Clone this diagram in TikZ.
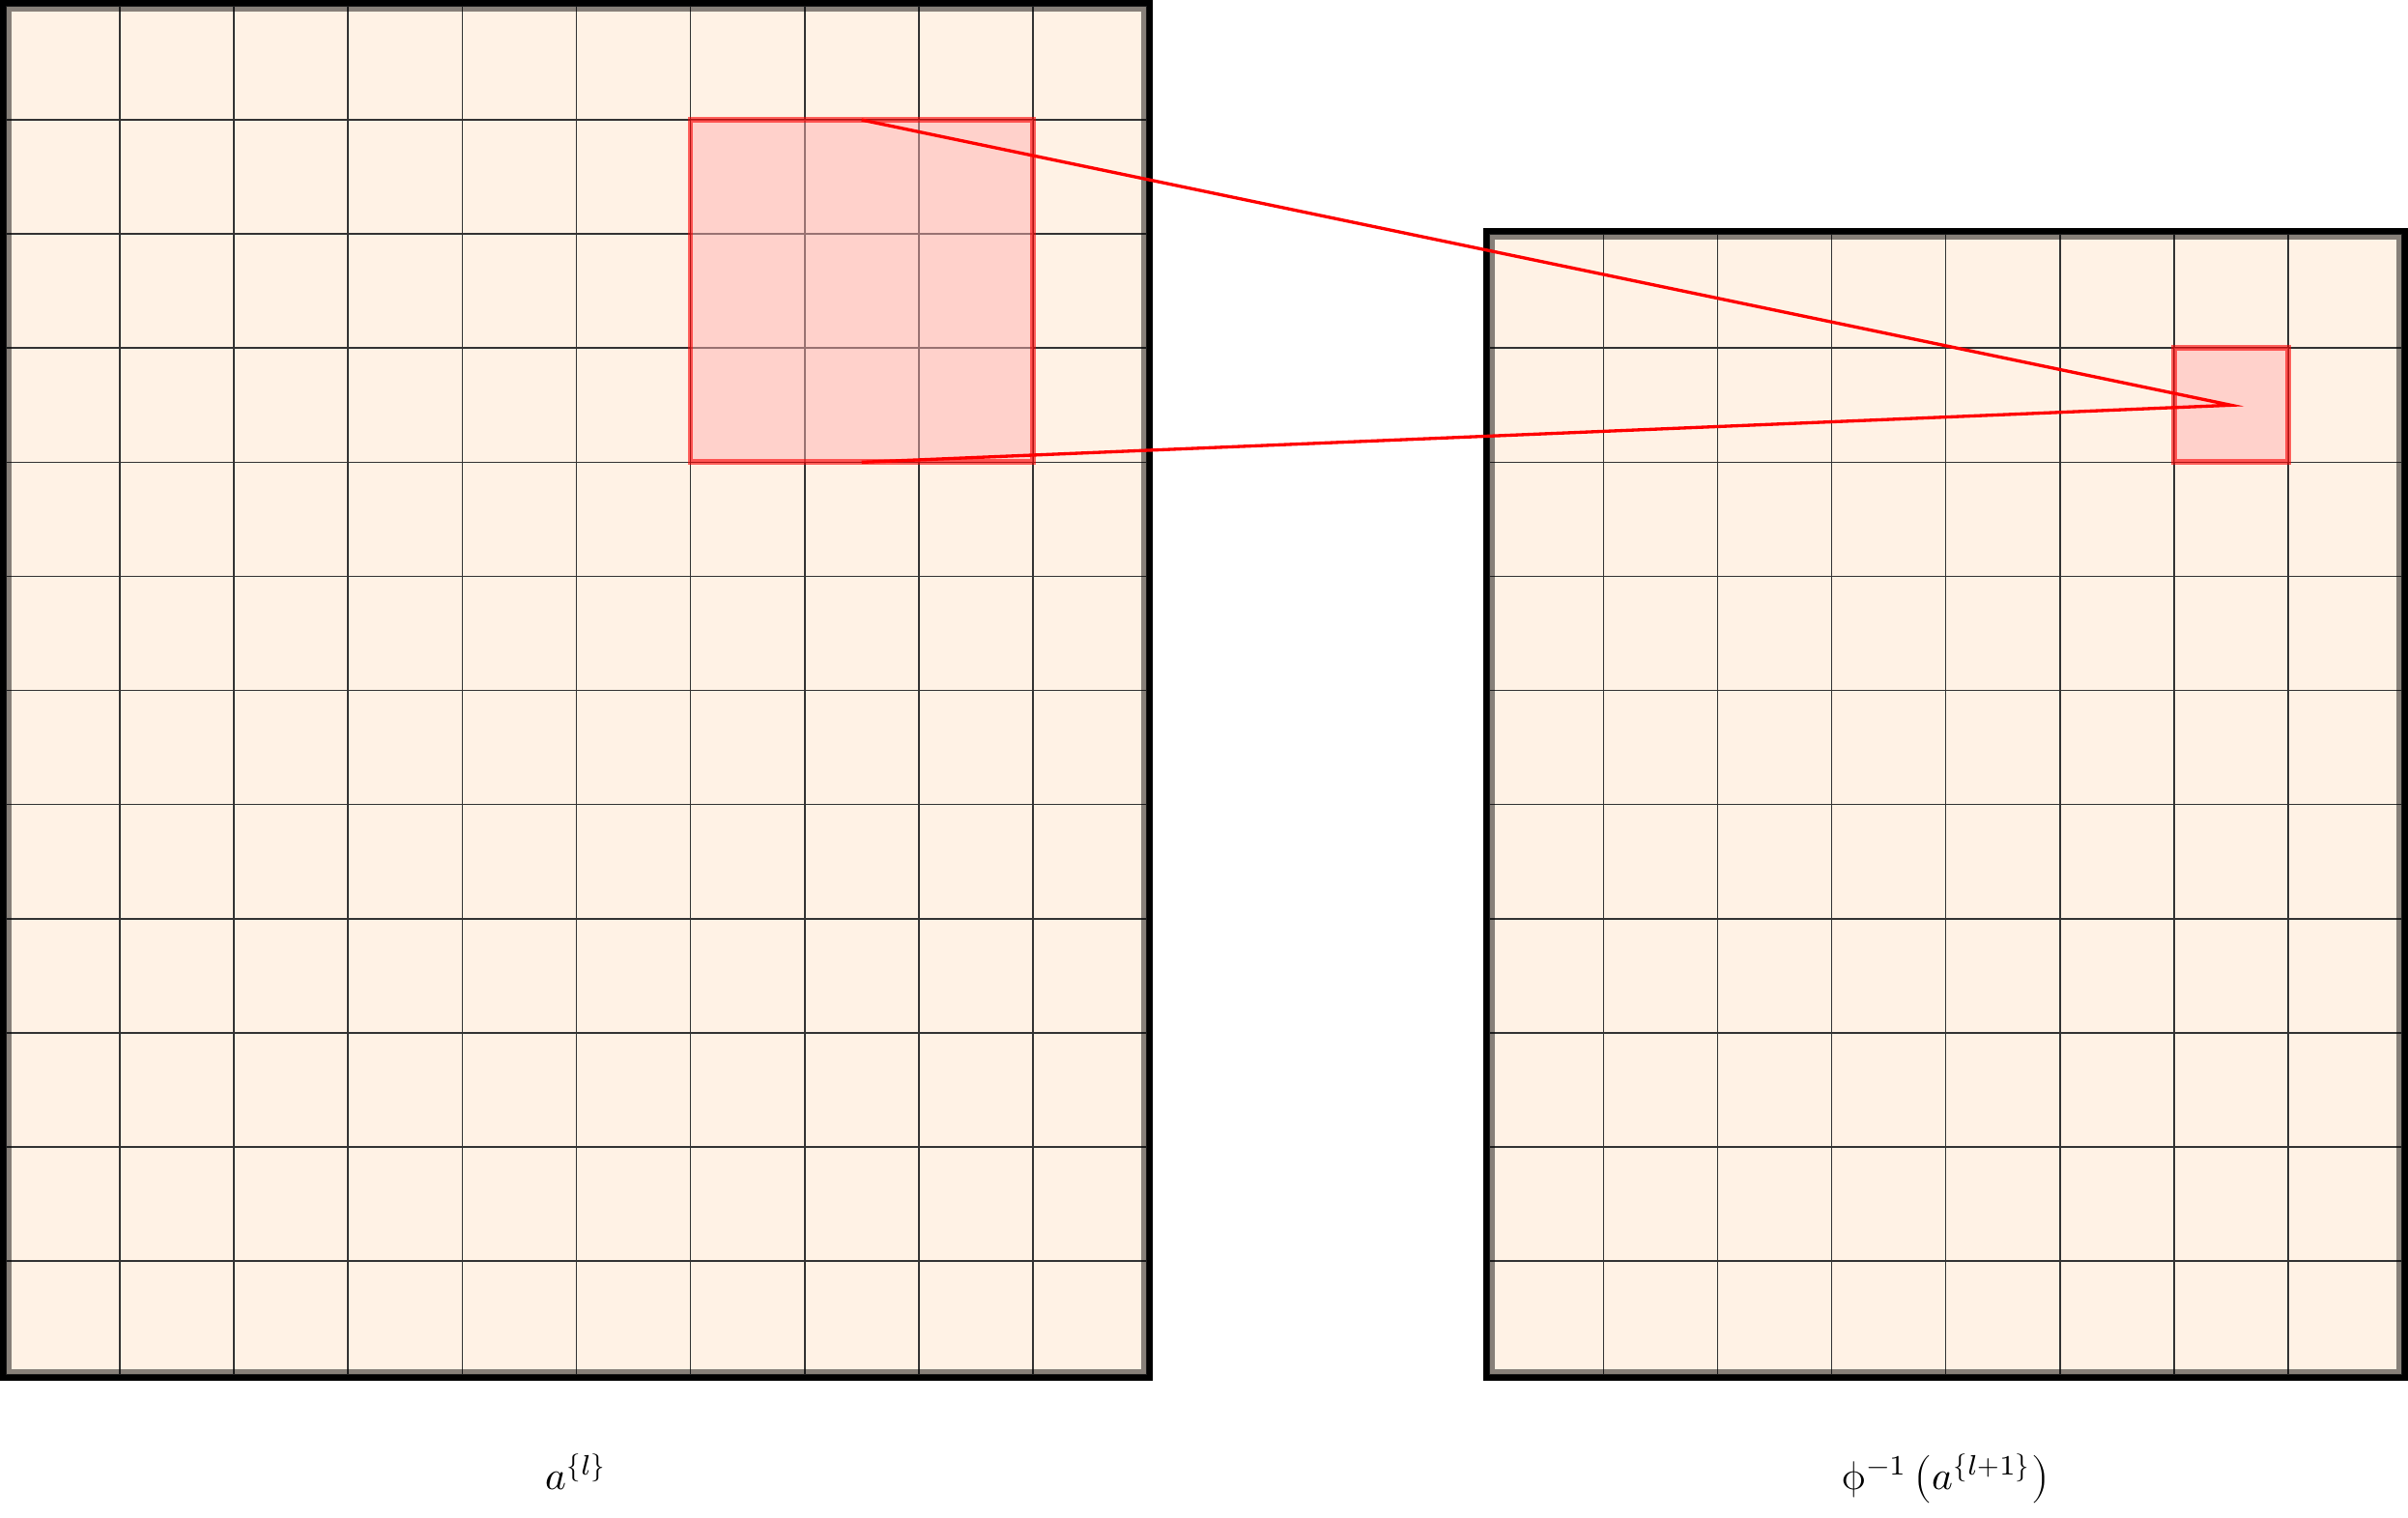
\documentclass[tikz,border=0pt]{standalone}
\usepackage{unicode-math}
\tikzset{
  gridbg/.style={fill=orange!10},
  gridlines/.style={black!80, line width=0.4pt},
  outerframe/.style={black, line width=0.0508cm},
  innerframe/.style={black, opacity=0.47, line width=0.0508cm},
  sel/.style={fill=red!30, fill opacity=0.5, draw=red, draw opacity=0.6, line width=1.4pt},
  proj/.style={red, line width=0.8pt, line join=miter},
  lab/.style={anchor=base, inner sep=0pt}
}
\begin{document}
\begin{tikzpicture}
\useasboundingbox (-0.0508,-1.2442) rectangle (21.0508,12.0508);
% left map
\fill[gridbg] (0,0) rectangle (10,12);
\draw[gridlines] (0,0) grid (10,12);
\draw[innerframe] (0.0254,0.0254) rectangle (9.9746,11.9746);
\draw[outerframe] (-0.0254,-0.0254) rectangle (10.0254,12.0254);
% right map
\fill[gridbg] (13,0) rectangle (21,10);
\draw[gridlines] (13,0) grid (21,10);
\draw[innerframe] (13.0254,0.0254) rectangle (20.9746,9.9746);
\draw[outerframe] (12.9746,-0.0254) rectangle (21.0254,10.0254);
% receptive field and output cell
\draw[sel] (6,8) rectangle (9,11);
\draw[sel] (19,8) rectangle (20,9);
\coordinate (rtop) at (7.5,11);
\coordinate (rbot) at (7.5,8);
\coordinate (tip) at (19.5,8.5);
\draw[proj] (rtop) -- (tip) -- (rbot);
% labels
\node[lab] (la) at (5,-1.0) {$a^{\{l\}}$};
\node[lab] (lb) at (17,-1.0) {$\upphi^{-1}\left(a^{\{l+1\}}\right)$};
\end{tikzpicture}
\end{document}
